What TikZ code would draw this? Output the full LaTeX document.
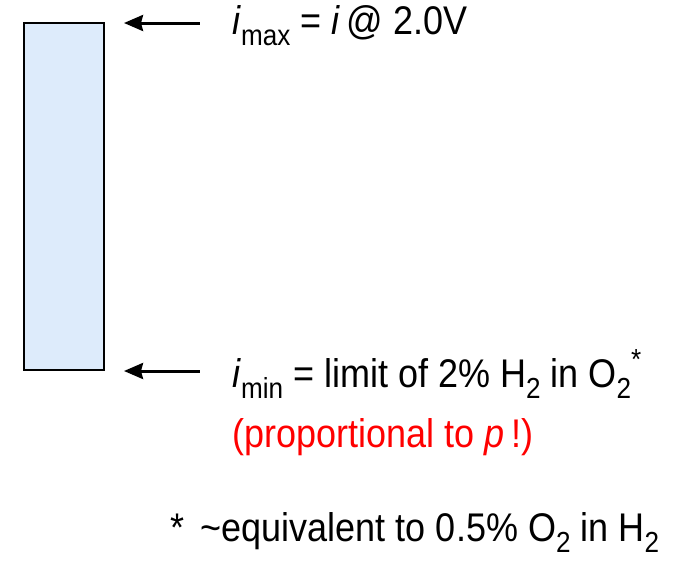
\documentclass[tikz,border=0pt]{standalone}
\usepackage{fontspec}
\setmainfont[FakeStretch=0.9]{Liberation Sans}
\usetikzlibrary{arrows.meta,positioning}
\definecolor{cellblue}{HTML}{DDEBFB}
\newcommand{\dn}[1]{\raisebox{-0.28em}{\fontsize{29}{29}\selectfont #1}}
\newcommand{\up}[1]{\raisebox{0.45em}{\fontsize{29}{29}\selectfont #1}}

\begin{document}
\begin{tikzpicture}[x=1pt, y=-1pt,
    lbl/.style={anchor=base west, inner sep=0pt, font=\fontsize{40}{44}\selectfont},
    ptr/.style={{Stealth[length=19pt,width=16pt,inset=2pt]}-, line width=3pt}]
    \useasboundingbox (0,0) rectangle (677,568);
    % operating window of the cell
    \draw[fill=cellblue, line width=1.4pt] (24,23) rectangle (104,370);
    % upper limit
    \coordinate (maxtip) at (124,23);
    \coordinate (maxtail) at (200,23);
    \draw[ptr] (maxtip) -- (maxtail);
    \node[lbl] (imax) at (232,34) {\textit{i}\dn{max} = \textit{i}\,@ 2.0V};
    % lower limit
    \coordinate (mintip) at (124,371);
    \coordinate (mintail) at (200,371);
    \draw[ptr] (mintip) -- (mintail);
    \node[lbl] (imin) at (232,387) {\textit{i}\dn{min} = limit of 2\% H\dn{2} in O\dn{2}\up{*}};
    \node[lbl, text=red] (prop) at (232,447) {(proportional to \textit{p}\,!)};
    % footnote
    \node[lbl] (foot) at (170,541) {*\, \textasciitilde equivalent to 0.5\% O\dn{2} in H\dn{2}};
\end{tikzpicture}
\end{document}
